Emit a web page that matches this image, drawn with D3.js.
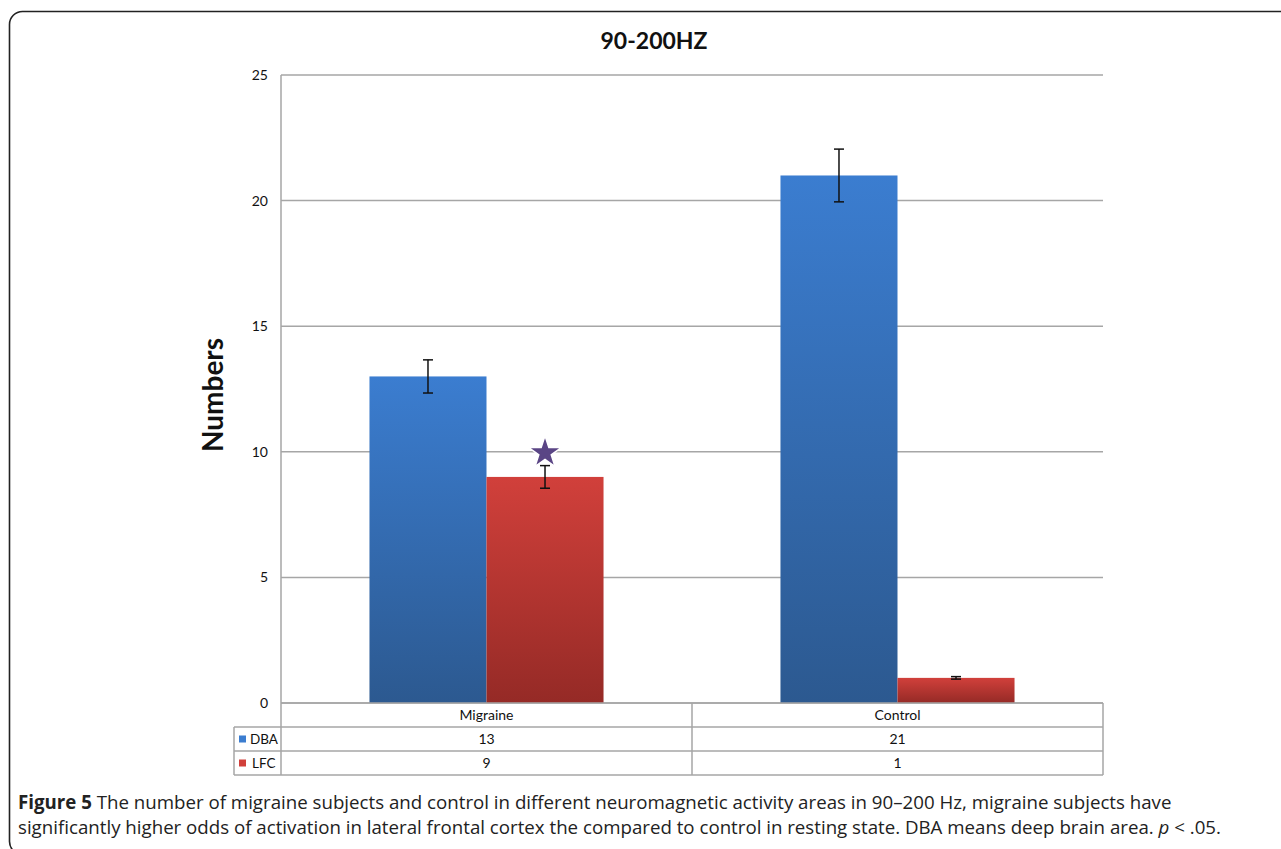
<!DOCTYPE html>
<html><head><meta charset="utf-8">
<script src="https://cdn.jsdelivr.net/npm/d3@7"></script>
<style>html,body{margin:0;padding:0;background:#fff;}svg{display:block;}</style>
</head><body>
<svg id="c" width="1281" height="849"></svg>
<script>
const categories = ["Migraine", "Control"];
const seriesNames = ["DBA", "LFC"];
const dbaValues = [13, 21];
const lfcValues = [9, 1];
const dbaErrors = [0.66, 1.05];
const lfcErrors = [0.45, 0.05];
const yTicks = [0, 5, 10, 15, 20, 25];
const starMarks = [{category: "Migraine", series: "LFC", value: 10}];
const title = "90-200HZ";
const yLabel = "Numbers";

const series = [
  {name: "DBA", values: dbaValues, errors: dbaErrors, top: "#3b7dd0", bottom: "#2c5990"},
  {name: "LFC", values: lfcValues, errors: lfcErrors, top: "#d1403b", bottom: "#952a26"}
];

const svg = d3.select("#c");
const font = "Lato, 'Open Sans', sans-serif";

// frame
svg.append("rect").attr("x", 9.5).attr("y", 11.5).attr("width", 1320).attr("height", 843)
  .attr("rx", 13).attr("fill", "none").attr("stroke", "#222").attr("stroke-width", 1.6);

const L = 281, R = 1103, T = 75, B = 703;
const y = d3.scaleLinear().domain([0, 25]).range([B, T]);
const x0 = d3.scaleBand().domain(categories).range([L, R]).padding(0);
const x1 = d3.scaleBand().domain(seriesNames).range([0, x0.bandwidth()]).paddingInner(0).paddingOuter(0.756);

const defs = svg.append("defs");
series.forEach(s => {
  const g = defs.append("linearGradient").attr("id", "g" + s.name).attr("x1", 0).attr("x2", 0).attr("y1", 0).attr("y2", 1);
  g.append("stop").attr("offset", "0%").attr("stop-color", s.top);
  g.append("stop").attr("offset", "100%").attr("stop-color", s.bottom);
});

// gridlines
svg.append("g").selectAll("line").data(yTicks).join("line")
  .attr("x1", L).attr("x2", R).attr("y1", d => y(d)).attr("y2", d => y(d))
  .attr("stroke", "#a6a6a6").attr("stroke-width", 1.5);
// left axis line
svg.append("line").attr("x1", L).attr("x2", L).attr("y1", T).attr("y2", B)
  .attr("stroke", "#a6a6a6").attr("stroke-width", 1.5);

// y tick labels via axis
const yAxis = svg.append("g").attr("transform", `translate(${L - 13},0)`)
  .call(d3.axisLeft(y).tickValues(yTicks).tickSize(0).tickPadding(0));
yAxis.select(".domain").remove();
yAxis.selectAll("text").attr("font-family", font).attr("font-size", 14).attr("fill", "#111");

// bars
const groups = svg.append("g").selectAll("g").data(categories).join("g")
  .attr("transform", d => `translate(${x0(d)},0)`);
series.forEach(s => {
  groups.append("rect")
    .attr("x", x1(s.name)).attr("width", x1.bandwidth())
    .attr("y", (d, i) => y(s.values[i])).attr("height", (d, i) => B - y(s.values[i]))
    .attr("fill", `url(#g${s.name})`);
});
// error bars
series.forEach(s => {
  const eg = groups.append("g").attr("stroke", "#111").attr("stroke-width", 1.5);
  const cx = x1(s.name) + x1.bandwidth() / 2;
  eg.append("line").attr("x1", cx).attr("x2", cx)
    .attr("y1", (d, i) => y(s.values[i] + s.errors[i])).attr("y2", (d, i) => y(s.values[i] - s.errors[i]));
  eg.append("line").attr("x1", cx - 5).attr("x2", cx + 5)
    .attr("y1", (d, i) => y(s.values[i] + s.errors[i])).attr("y2", (d, i) => y(s.values[i] + s.errors[i]));
  eg.append("line").attr("x1", cx - 5).attr("x2", cx + 5)
    .attr("y1", (d, i) => y(s.values[i] - s.errors[i])).attr("y2", (d, i) => y(s.values[i] - s.errors[i]));
});
// star
svg.append("g").selectAll("path").data(starMarks).join("path")
  .attr("d", d3.symbol(d3.symbolStar, 330))
  .attr("transform", d => `translate(${x0(d.category) + x1(d.series) + x1.bandwidth() / 2},${y(d.value) + 1})`)
  .attr("fill", "#5a4585").attr("stroke", "#fff").attr("stroke-width", 1.5);

// title
svg.append("text").attr("x", 654).attr("y", 49).attr("text-anchor", "middle")
  .attr("font-family", font).attr("font-weight", "bold").attr("font-size", 23).attr("fill", "#111").text(title);
// y label
svg.append("text").attr("transform", "translate(223,395) rotate(-90)").attr("text-anchor", "middle")
  .attr("font-family", font).attr("font-weight", "bold").attr("font-size", 28).attr("fill", "#111").text(yLabel);

// data table
const rowH = 24, tTop = B, legL = 234;
const tb = svg.append("g").attr("stroke", "#a6a6a6").attr("stroke-width", 1.5).attr("fill", "none");
tb.append("line").attr("x1", L).attr("x2", R).attr("y1", tTop).attr("y2", tTop);
[1, 2, 3].forEach(r => tb.append("line").attr("x1", legL).attr("x2", R).attr("y1", tTop + r * rowH).attr("y2", tTop + r * rowH));
tb.append("line").attr("x1", legL).attr("x2", legL).attr("y1", tTop + rowH).attr("y2", tTop + 3 * rowH);
[L, ...categories.slice(1).map(c => x0(c)), R].forEach(xx =>
  tb.append("line").attr("x1", xx).attr("x2", xx).attr("y1", tTop).attr("y2", tTop + 3 * rowH));

svg.append("g").selectAll("text").data(categories).join("text")
  .attr("x", d => x0(d) + x0.bandwidth() / 2).attr("y", tTop + rowH / 2 + 5).attr("text-anchor", "middle")
  .attr("font-family", font).attr("font-size", 14).attr("fill", "#111").text(d => d);
series.forEach((s, r) => {
  const ry = tTop + (r + 1) * rowH;
  svg.append("rect").attr("x", legL + 5).attr("y", ry + rowH / 2 - 3.5).attr("width", 7).attr("height", 7).attr("fill", s.top);
  svg.append("text").attr("x", legL + (s.name === "LFC" ? 18 : 16)).attr("y", ry + rowH / 2 + 5)
    .attr("font-family", font).attr("font-size", 13.5).attr("fill", "#111").text(s.name);
  svg.append("g").selectAll("text").data(categories).join("text")
    .attr("x", d => x0(d) + x0.bandwidth() / 2).attr("y", ry + rowH / 2 + 5).attr("text-anchor", "middle")
    .attr("font-family", font).attr("font-size", 14).attr("fill", "#111").text((d, i) => s.values[i]);
});

// caption
const cf = "'Open Sans', sans-serif";
const c1 = svg.append("text").attr("x", 18).attr("y", 809).attr("font-family", cf).attr("font-size", 18.7).attr("fill", "#222");
c1.append("tspan").attr("font-weight", "bold").text("Figure 5");
c1.append("tspan").text(" The number of migraine subjects and control in different neuromagnetic activity areas in 90\u2013200 Hz, migraine subjects have");
const c2 = svg.append("text").attr("x", 18).attr("y", 834).attr("font-family", cf).attr("font-size", 18.7).attr("fill", "#222");
c2.append("tspan").text("significantly higher odds of activation in lateral frontal cortex the compared to control in resting state. DBA means deep brain area. ");
c2.append("tspan").attr("font-style", "italic").text("p");
c2.append("tspan").text(" < .05.");
</script>
</body></html>
